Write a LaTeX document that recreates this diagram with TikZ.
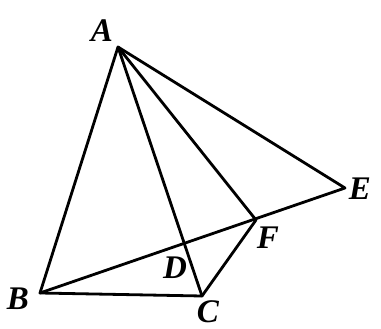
\documentclass[tikz,border=0pt]{standalone}
\usepackage{fontspec}
\setmainfont{Liberation Serif}
\begin{document}
\begin{tikzpicture}[x=1pt,y=-1pt,
  seg/.style={line width=2.8pt,line join=round,line cap=round},
  lbl/.style={font=\fontsize{33}{33}\selectfont\bfseries\itshape,inner sep=0pt}]
\useasboundingbox (0,0) rectangle (381,329);
\coordinate (A) at (118,47);
\coordinate (B) at (40,293);
\coordinate (C) at (202,296);
\coordinate (E) at (345,188);
\coordinate (F) at (256,220);
\coordinate (D) at (182,244);
\draw[seg] (B) -- (A) -- (C) -- cycle;
\draw[seg] (A) -- (F) -- (C);
\draw[seg] (A) -- (E) -- (B);
\node[lbl] (lA) at (102,31) {A};
\node[lbl] (lB) at (18,299) {B};
\node[lbl] (lC) at (208,312) {C};
\node[lbl] (lD) at (175,268) {D};
\node[lbl] (lF) at (268,238) {F};
\node[lbl] (lE) at (360,189) {E};
\end{tikzpicture}
\end{document}
